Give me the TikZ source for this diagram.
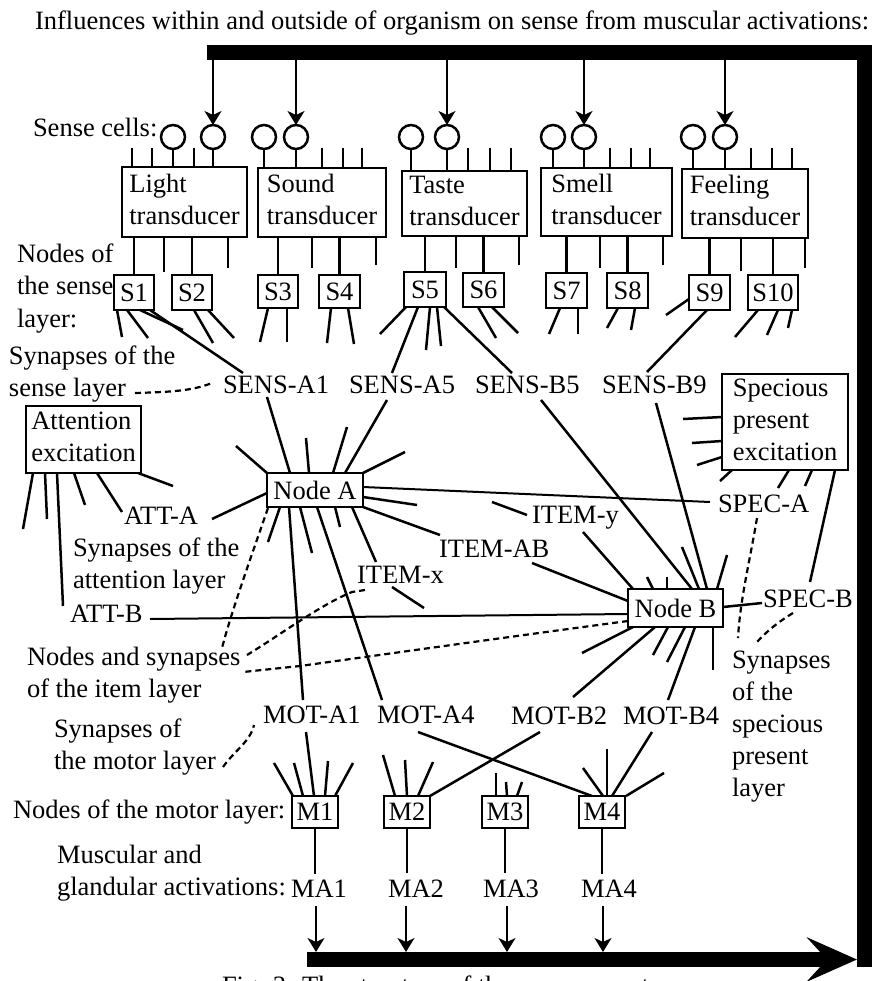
\documentclass[tikz,border=0pt]{standalone}
\usepackage{fontspec}
\setmainfont{Liberation Serif}
\usetikzlibrary{arrows.meta,calc}
\newcommand{\TopLines}[1]{\begin{tabular}[t]{@{}l@{}}#1\end{tabular}}
\newcommand{\BoxLines}[1]{\begin{tabular}{@{}l@{}}#1\end{tabular}}
\tikzset{
  box/.style={draw, line width=2.5pt, inner sep=0pt, outer sep=0pt, anchor=north west},
  lbl/.style={inner sep=0pt, outer sep=0pt, anchor=base west},
  tln/.style={line width=2pt},
  dsh/.style={line width=2.2pt, dash pattern=on 6pt off 4pt},
  arr/.style={line width=1.8pt, -{Stealth[length=14pt,width=17pt,inset=4pt]}},
  bar/.style={line width=15pt},
  cell/.style={circle, draw, line width=2.5pt, minimum size=24pt, inner sep=0pt, outer sep=0pt},
}
\begin{document}
\begin{tikzpicture}[x=1pt,y=-1pt,font=\fontsize{26.5}{32}\selectfont,line width=2.5pt,line join=miter]
\useasboundingbox (0,0) rectangle (874,981);

% ---------- title and feedback loop ----------
\node[lbl] (title) at (35,30) {Influences within and outside of organism on sense from muscular activations:};
\draw[bar] (207,52.5) -- (864.5,52.5) -- (864.5,967);
\draw[bar,-{Stealth[length=50pt,width=44pt,inset=20pt]}] (307,959.5) -- (857,959.5);
\coordinate (topbar) at (0,60);

% ---------- sense cells ----------
\node[lbl] (sensecells) at (33,137) {Sense cells:};
\foreach \n/\x in {1/173,2/213,3/264,4/296,5/411,6/447,7/553,8/584,9/693,10/725}
  \node[cell] (c\n) at (\x,137) {};
\foreach \n in {2,4,6,8,10}
  \draw[arr] (c\n.north |- topbar) -- (c\n.north);

% ---------- transducers ----------
\node[box, minimum width=125pt, minimum height=70pt] (light) at (122,167) {\BoxLines{Light\\transducer}};
\node[box, minimum width=128pt, minimum height=69pt] (sound) at (258,168) {\BoxLines{Sound\\transducer}};
\node[box, minimum width=125pt, minimum height=65pt] (taste) at (402,171) {\BoxLines{Taste\\transducer}};
\node[box, minimum width=131pt, minimum height=68pt] (smell) at (541,168) {\BoxLines{Smell\\transducer}};
\node[box, minimum width=126pt, minimum height=69pt] (feel) at (682,169) {\BoxLines{Feeling\\transducer}};

% cell stems
\foreach \n/\b in {1/light,2/light,3/sound,4/sound,5/taste,6/taste,7/smell,8/smell,9/feel,10/feel}
  \draw (c\n.south) -- (c\n.south |- \b.north);
% free input ticks
\foreach \x in {132,152,194} \draw (\x,148) -- (\x,167);
\foreach \x in {322,343,362} \draw (\x,148) -- (\x,168);
\foreach \x in {468,490,511} \draw (\x,148) -- (\x,171);
\foreach \x in {610,631,650} \draw (\x,148) -- (\x,168);
\foreach \x in {751,772,792} \draw (\x,148) -- (\x,169);
% free output ticks
\draw (164,237) -- (164,272); \draw (228,237) -- (228,268);
\draw (312,237) -- (312,268); \draw (376,237) -- (376,265);
\draw (456,236) -- (456,268); \draw (519,236) -- (519,265);
\draw (600,236) -- (600,268); \draw (663,236) -- (663,265);
\draw (741,238) -- (741,271); \draw (805,238) -- (805,268);

% ---------- sense nodes ----------
\node[lbl] (nodessense) at (17,263) {\TopLines{Nodes of\\the sense\\layer:}};
\node[box, minimum width=40pt, minimum height=35pt] (S1) at (114,275) {S1};
\node[box, minimum width=40pt, minimum height=35pt] (S2) at (172,275) {S2};
\node[box, minimum width=40pt, minimum height=33pt] (S3) at (258,275) {S3};
\node[box, minimum width=41pt, minimum height=33pt] (S4) at (319,275) {S4};
\node[box, minimum width=42pt, minimum height=35pt] (S5) at (404,272) {S5};
\node[box, minimum width=41pt, minimum height=34pt] (S6) at (463,273) {S6};
\node[box, minimum width=41pt, minimum height=35pt] (S7) at (546,273) {S7};
\node[box, minimum width=41pt, minimum height=35pt] (S8) at (607,273) {S8};
\node[box, minimum width=41pt, minimum height=35pt] (S9) at (689,275) {S9};
\node[box, minimum width=50pt, minimum height=35pt] (S10) at (748,275) {S10};
\foreach \s/\b in {S1/light,S2/light,S3/sound,S4/sound,S5/taste,S6/taste,S7/smell,S8/smell,S9/feel,S10/feel}
  \draw (\s.north) -- (\s.north |- \b.south);

% sense synapse stubs
\draw (117,310) -- (122,337); \draw (127,310) -- (148,338); \draw (140,310) -- (183,330);
\draw (194,310) -- (213,343); \draw (208,310) -- (234,338);
\draw (268,308) -- (260,342); \draw (287,308) -- (287,342);
\draw (331,308) -- (327,343); \draw (348,308) -- (354,344);
\draw (406,307) -- (380,334); \draw (430,307) -- (426,350); \draw (437,307) -- (441,346);
\draw (478,307) -- (496,338); \draw (492,307) -- (518,333);
\draw (560,308) -- (549,334); \draw (578,308) -- (578,334);
\draw (618,308) -- (607,328); \draw (635,308) -- (631,330);
\draw (689,299) -- (666,315);
\draw (758,310) -- (735,337); \draw (778,310) -- (767,335); \draw (792,310) -- (788,328);

% ---------- sense synapse labels ----------
\node[lbl] (synsense) at (9,364) {\TopLines{Synapses of the\\sense layer}};
\node[lbl] (sA1) at (223,393) {SENS-A1};
\node[lbl] (sA5) at (349,393) {SENS-A5};
\node[lbl] (sB5) at (475,393) {SENS-B5};
\node[lbl] (sB9) at (602,393) {SENS-B9};
\draw[dsh] (135,393) .. controls (170,392) and (192,391) .. (212,383);
\draw (150,310) -- (243,373);
\draw (418,307) -- (392,373);
\draw (444,307) -- (512,373);
\draw (707,310) -- (647,372);

% ---------- item nodes ----------
\node[box, minimum width=96pt, minimum height=34pt] (nA) at (267,473) {Node A};
\node[box, minimum width=95pt, minimum height=38pt] (nB) at (628,589) {Node B};

\draw (267,397) -- (290,473);
\draw (387,400) -- (345,473);
\draw (541,400) -- (692,589);
\draw (656,403) -- (707,589);

% Node A stubs
\draw (267,473) -- (236,446);
\draw (309,473) -- (306,438);
\draw (333,473) -- (347,427);
\draw (363,473) -- (405,452);
\draw (363,497) -- (417,505);
\draw (280,507) -- (268,542);
\draw (300,507) -- (312,553);
\draw (335,507) -- (340,527);

% ---------- attention ----------
\node[box, minimum width=115pt, minimum height=67pt] (att) at (26,406) {\BoxLines{Attention\\excitation}};
\node[lbl] (attA) at (124,524) {ATT-A};
\node[lbl] (synatt) at (73,556) {\TopLines{Synapses of the\\attention layer}};
\node[lbl] (attB) at (70,622) {ATT-B};
\draw (33,473) -- (23,529);
\draw (45,473) -- (47,519);
\draw (57,473) -- (63,606);
\draw (74,473) -- (85,505);
\draw (97,473) -- (122,512);
\draw (138,473) -- (173,486);
\draw (212,519) -- (267,493);
\draw[tln] (150,619) -- (628,614);

% ---------- specious present ----------
\node[box, minimum width=126pt, minimum height=96pt] (spec) at (722,374) {\BoxLines{Specious\\present\\excitation}};
\node[lbl] (specA) at (718,512) {SPEC-A};
\node[lbl] (specB) at (763,607) {SPEC-B};
\draw (722,417) -- (683,419);
\draw (722,441) -- (692,443);
\draw (722,457) -- (697,465);
\draw (732,470) -- (720,481);
\draw (789,470) -- (778,488);
\draw (812,470) -- (805,486);
\draw (835,470) -- (810,582);
\draw[tln] (363,487) -- (710,502);
\draw (723,607) -- (762,603);

% ---------- item synapses ----------
\node[lbl] (itemx) at (357,583) {ITEM-x};
\node[lbl] (itemAB) at (439,557) {ITEM-AB};
\node[lbl] (itemy) at (532,523) {ITEM-y};
\draw (352,507) -- (376,562);
\draw (392,587) -- (424,608);
\draw (363,507) -- (440,535);
\draw (532,563) -- (628,601);
\draw (492,502) -- (527,515);
\draw (583,532) -- (633,589);

% Node B stubs
\draw (653,589) -- (647,577);
\draw (667,589) -- (667,577);
\draw (699,589) -- (682,547);
\draw (717,589) -- (727,555);
\draw (633,627) -- (582,653);
\draw (668,627) -- (653,655);
\draw (685,627) -- (667,662);
\draw (713,627) -- (713,670);

% item layer annotations
\node[lbl] (nodesitem) at (27,665) {\TopLines{Nodes and synapses\\of the item layer}};
\draw[dsh] (268,508) .. controls (250,560) and (232,610) .. (222,648);
\draw[dsh] (365,590) -- (352,592) .. controls (320,605) and (280,635) .. (247,655);
\draw[dsh] (628,621) .. controls (500,638) and (380,655) .. (300,666) -- (243,672);

% specious annotations
\node[lbl] (synspec) at (732,668) {\TopLines{Synapses\\of the\\specious\\present\\layer}};
\draw[dsh] (757,518) .. controls (750,560) and (740,600) .. (738,638);
\draw[dsh] (793,613) .. controls (778,622) and (766,632) .. (757,642);

% ---------- motor layer ----------
\node[lbl] (mA1) at (263,723) {MOT-A1};
\node[lbl] (mA4) at (377,723) {MOT-A4};
\node[lbl] (mB2) at (511,724) {MOT-B2};
\node[lbl] (mB4) at (623,724) {MOT-B4};
\draw (289,507) -- (303,700);
\draw (317,507) -- (382,700);
\draw (655,627) -- (573,697);
\draw (695,627) -- (668,700);

\node[lbl] (synmot) at (54,737) {\TopLines{Synapses of\\the motor layer}};
\draw[dsh] (223,767) .. controls (235,750) and (250,742) .. (254,725);

\node[lbl] (nodesmot) at (13,818) {Nodes of the motor layer:};
\node[box, minimum width=46pt, minimum height=32pt] (M1) at (292,796) {M1};
\node[box, minimum width=46pt, minimum height=32pt] (M2) at (384,796) {M2};
\node[box, minimum width=46pt, minimum height=32pt] (M3) at (482,796) {M3};
\node[box, minimum width=46pt, minimum height=32pt] (M4) at (579,796) {M4};

\draw (306,732) -- (314,796);
\draw (540,732) -- (430,796);
\draw (418,732) -- (592,796);
\draw (652,732) -- (612,796);
% motor stubs
\draw (293,796) -- (274,763); \draw (303,796) -- (294,763);
\draw (325,796) -- (328,761); \draw (335,796) -- (353,763);
\draw (395,796) -- (383,755); \draw (407,796) -- (405,760); \draw (418,796) -- (433,762);
\draw (496,796) -- (496,773); \draw (507,796) -- (506,782); \draw (517,796) -- (522,782);
\draw (603,796) -- (583,768); \draw (607,796) -- (607,749); \draw (626,796) -- (664,773);

% ---------- activations ----------
\node[lbl] (musc) at (57,863) {\TopLines{Muscular and\\glandular activations:}};
\node[lbl] (MA1) at (291,897) {MA1};
\node[lbl] (MA2) at (388,897) {MA2};
\node[lbl] (MA3) at (483,897) {MA3};
\node[lbl] (MA4) at (581,897) {MA4};
\foreach \m in {1,2,3,4}
  \draw[line width=1.8pt, shorten >=6pt] (M\m.south) -- (M\m.south |- MA\m.north);
\draw[arr] (316,906) -- (316,952);
\draw[arr] (406,906) -- (406,952);
\draw[arr] (507,906) -- (507,952);
\draw[arr] (603,906) -- (603,952);

% ---------- caption (cut off by the page edge) ----------
\begin{scope}
  \clip (0,0) rectangle (874,981);
  \node[lbl] (caption) at (222,994) {Fig. 3: The structure of the nervous system};
\end{scope}
\end{tikzpicture}
\end{document}
